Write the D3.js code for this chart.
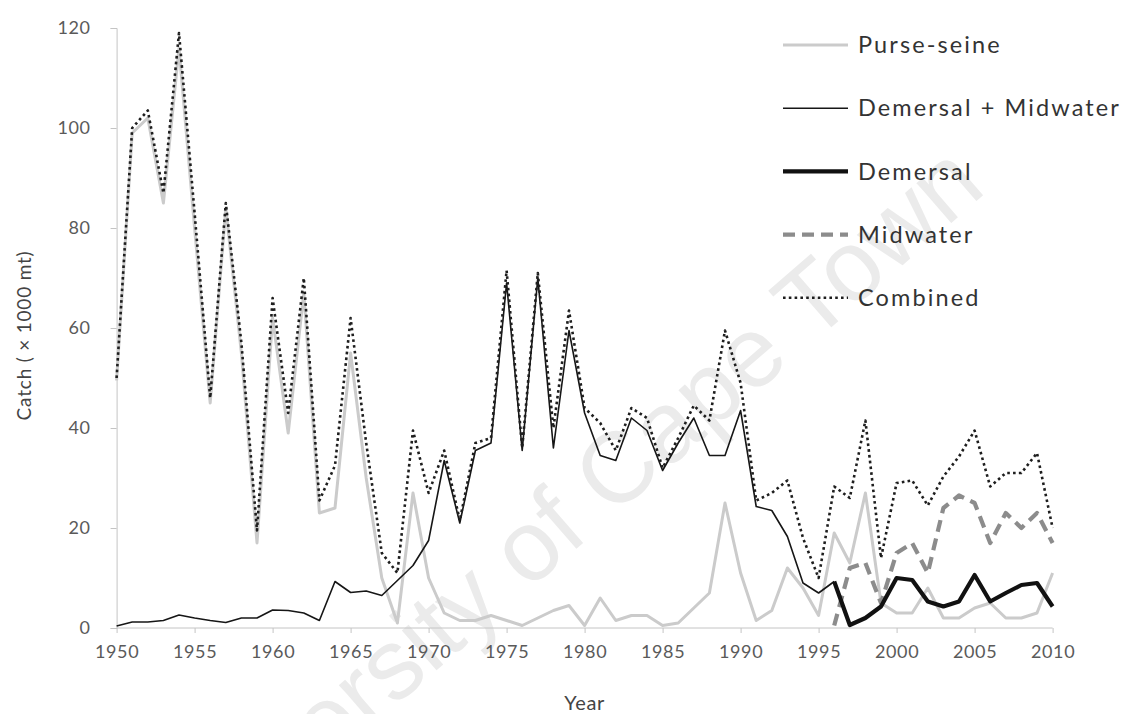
<!DOCTYPE html>
<html>
<head>
<meta charset="utf-8">
<script src="https://cdn.jsdelivr.net/npm/d3@7"></script>
<style>
  body { margin: 0; background: #fff; }
  svg { display: block; font-family: Lato, 'Open Sans', sans-serif; }
</style>
</head>
<body>
<script>
'use strict';

// categories
var years = [1950, 1951, 1952, 1953, 1954, 1955, 1956, 1957, 1958, 1959,
             1960, 1961, 1962, 1963, 1964, 1965, 1966, 1967, 1968, 1969,
             1970, 1971, 1972, 1973, 1974, 1975, 1976, 1977, 1978, 1979,
             1980, 1981, 1982, 1983, 1984, 1985, 1986, 1987, 1988, 1989,
             1990, 1991, 1992, 1993, 1994, 1995, 1996, 1997, 1998, 1999,
             2000, 2001, 2002, 2003, 2004, 2005, 2006, 2007, 2008, 2009,
             2010];
var lateYears = [1996, 1997, 1998, 1999, 2000, 2001, 2002, 2003, 2004, 2005,
                 2006, 2007, 2008, 2009, 2010];

// series values (x 1000 mt)
var purseSeine = [49.5, 99, 102, 85, 116, 80, 45, 84, 55, 17,
                  62, 39, 67, 23, 24, 55, 30, 10, 1, 27,
                  10, 3, 1.5, 1.5, 2.5, 1.5, 0.5, 2, 3.5, 4.5,
                  0.5, 6, 1.5, 2.5, 2.5, 0.5, 1, 4, 7, 25,
                  11, 1.5, 3.5, 12, 8, 2.5, 19, 13, 27, 5,
                  3, 3, 8, 2, 2, 4, 5, 2, 2, 3,
                  11];
var demersalMidwater = [0.4, 1.2, 1.2, 1.5, 2.6, 2, 1.5, 1.1, 2, 2,
                        3.6, 3.5, 3, 1.5, 9.3, 7.1, 7.4, 6.5, 9.5, 12.5,
                        17.5, 33.5, 21, 35.5, 37, 69, 35.5, 70, 36, 59.5,
                        43, 34.5, 33.5, 42, 39.5, 31.5, 37, 42, 34.5, 34.5,
                        43.5, 24.3, 23.5, 18.3, 9, 7, 9.3];
var demersal = [9.3, 0.6, 2, 4.3, 10, 9.6, 5.3, 4.3, 5.3, 10.6,
                5.3, 7, 8.6, 9, 4.3];
var midwater = [0.5, 12, 13, 5, 15, 17, 11, 24, 26.5, 25,
                17, 23, 20, 23, 17];
var combined = [50, 100, 103.5, 87, 119, 83, 46, 85, 57, 19.5,
                66, 43, 70, 25.5, 32.5, 62, 37, 15, 11, 39.5,
                27, 35.5, 21.5, 37, 38, 71.5, 36, 71, 40, 63.5,
                44, 41, 35.5, 44, 42, 32, 38, 44.5, 41.5, 59.5,
                49, 25.5, 27, 29.5, 18, 10, 28.3, 26, 41.5, 14,
                29, 29.5, 24.5, 30.3, 34.3, 39.5, 28.3, 31, 31, 35,
                20];

// tick labels
var yearTicks = [1950, 1955, 1960, 1965, 1970, 1975, 1980, 1985, 1990, 1995, 2000, 2005, 2010];
var catchTicks = [0, 20, 40, 60, 80, 100, 120];

var seriesNames = ['Purse-seine', 'Demersal + Midwater', 'Demersal', 'Midwater', 'Combined'];

var width = 1128,
    height = 714;

var styles = {
  'Purse-seine':         {stroke: '#cbcbcb', width: 3,   dash: null},
  'Demersal + Midwater': {stroke: '#161616', width: 1.6, dash: null},
  'Demersal':            {stroke: '#111111', width: 4.2, dash: null},
  'Midwater':            {stroke: '#8c8c8c', width: 4.2, dash: '12,7'},
  'Combined':            {stroke: '#1e1e1e', width: 2.6, dash: '2.6,3.2'}
};

var svg = d3.select('body').append('svg')
    .attr('width', width)
    .attr('height', height);

var x = d3.scaleLinear().domain([1950, 2010]).range([116.6, 1052.6]);
var y = d3.scaleLinear().domain([0, 120]).range([628, 28]);

// watermark
svg.append('text')
    .attr('transform', 'translate(988,191) rotate(-41)')
    .attr('text-anchor', 'end')
    .attr('font-family', 'Liberation Sans, Arial, sans-serif')
    .attr('font-size', 100)
    .attr('fill', '#ebebeb')
    .text('University of Cape Town');

// axes
var yAxis = svg.append('g')
    .attr('transform', 'translate(' + x(1950) + ',0)')
    .call(d3.axisLeft(y).tickValues(catchTicks).tickSize(6).tickPadding(20));
var xAxis = svg.append('g')
    .attr('transform', 'translate(0,' + y(0) + ')')
    .call(d3.axisBottom(x).tickValues(yearTicks).tickSize(5).tickPadding(12)
      .tickFormat(d3.format('d')));

[yAxis, xAxis].forEach(function(a) {
  a.select('.domain').attr('stroke', '#c4c4c4');
  a.selectAll('.tick line').attr('stroke', '#c4c4c4');
  a.selectAll('.tick text')
      .attr('fill', '#5a5a5a')
      .attr('font-size', 18)
      .attr('letter-spacing', 0.6)
      .attr('font-family', 'Lato, sans-serif');
});
xAxis.select('.domain').attr('d', 'M' + x(1950) + ',0H' + x(2010));

svg.append('text')
    .attr('transform', 'translate(31,' + y(58.5) + ') rotate(-90)')
    .attr('text-anchor', 'middle')
    .attr('font-size', 19)
    .attr('letter-spacing', 0.8)
    .attr('fill', '#444')
    .text('Catch ( \u00d7 1000 mt)');

svg.append('text')
    .attr('x', x(1980))
    .attr('y', 710)
    .attr('text-anchor', 'middle')
    .attr('font-size', 20)
    .attr('letter-spacing', 0.6)
    .attr('fill', '#444')
    .text('Year');

// lines
function series(name, xs, vals) {
  return {name: name, points: vals.map(function(v, i) { return [xs[i], v]; })};
}

var data = [
  series('Purse-seine', years, purseSeine),
  series('Demersal + Midwater', years, demersalMidwater),
  series('Midwater', lateYears, midwater),
  series('Demersal', lateYears, demersal),
  series('Combined', years, combined)
];

var line = d3.line()
    .x(function(d) { return x(d[0]); })
    .y(function(d) { return y(d[1]); });

svg.append('g').selectAll('path')
    .data(data)
  .enter().append('path')
    .attr('d', function(d) { return line(d.points); })
    .attr('fill', 'none')
    .attr('stroke', function(d) { return styles[d.name].stroke; })
    .attr('stroke-width', function(d) { return styles[d.name].width; })
    .attr('stroke-dasharray', function(d) { return styles[d.name].dash; })
    .attr('stroke-linejoin', 'round');

// legend
var legend = svg.append('g').selectAll('g')
    .data(seriesNames)
  .enter().append('g')
    .attr('transform', function(d, i) { return 'translate(783,' + (45 + i * 63.2) + ')'; });

legend.append('line')
    .attr('x1', 0)
    .attr('x2', 65)
    .attr('stroke', function(d) { return styles[d].stroke; })
    .attr('stroke-width', function(d) { return styles[d].width; })
    .attr('stroke-dasharray', function(d) { return styles[d].dash; });

legend.append('text')
    .attr('x', 75)
    .attr('dy', '0.35em')
    .attr('font-size', 23.5)
    .attr('letter-spacing', 2.1)
    .attr('fill', '#333')
    .text(function(d) { return d; });
</script>
</body>
</html>
